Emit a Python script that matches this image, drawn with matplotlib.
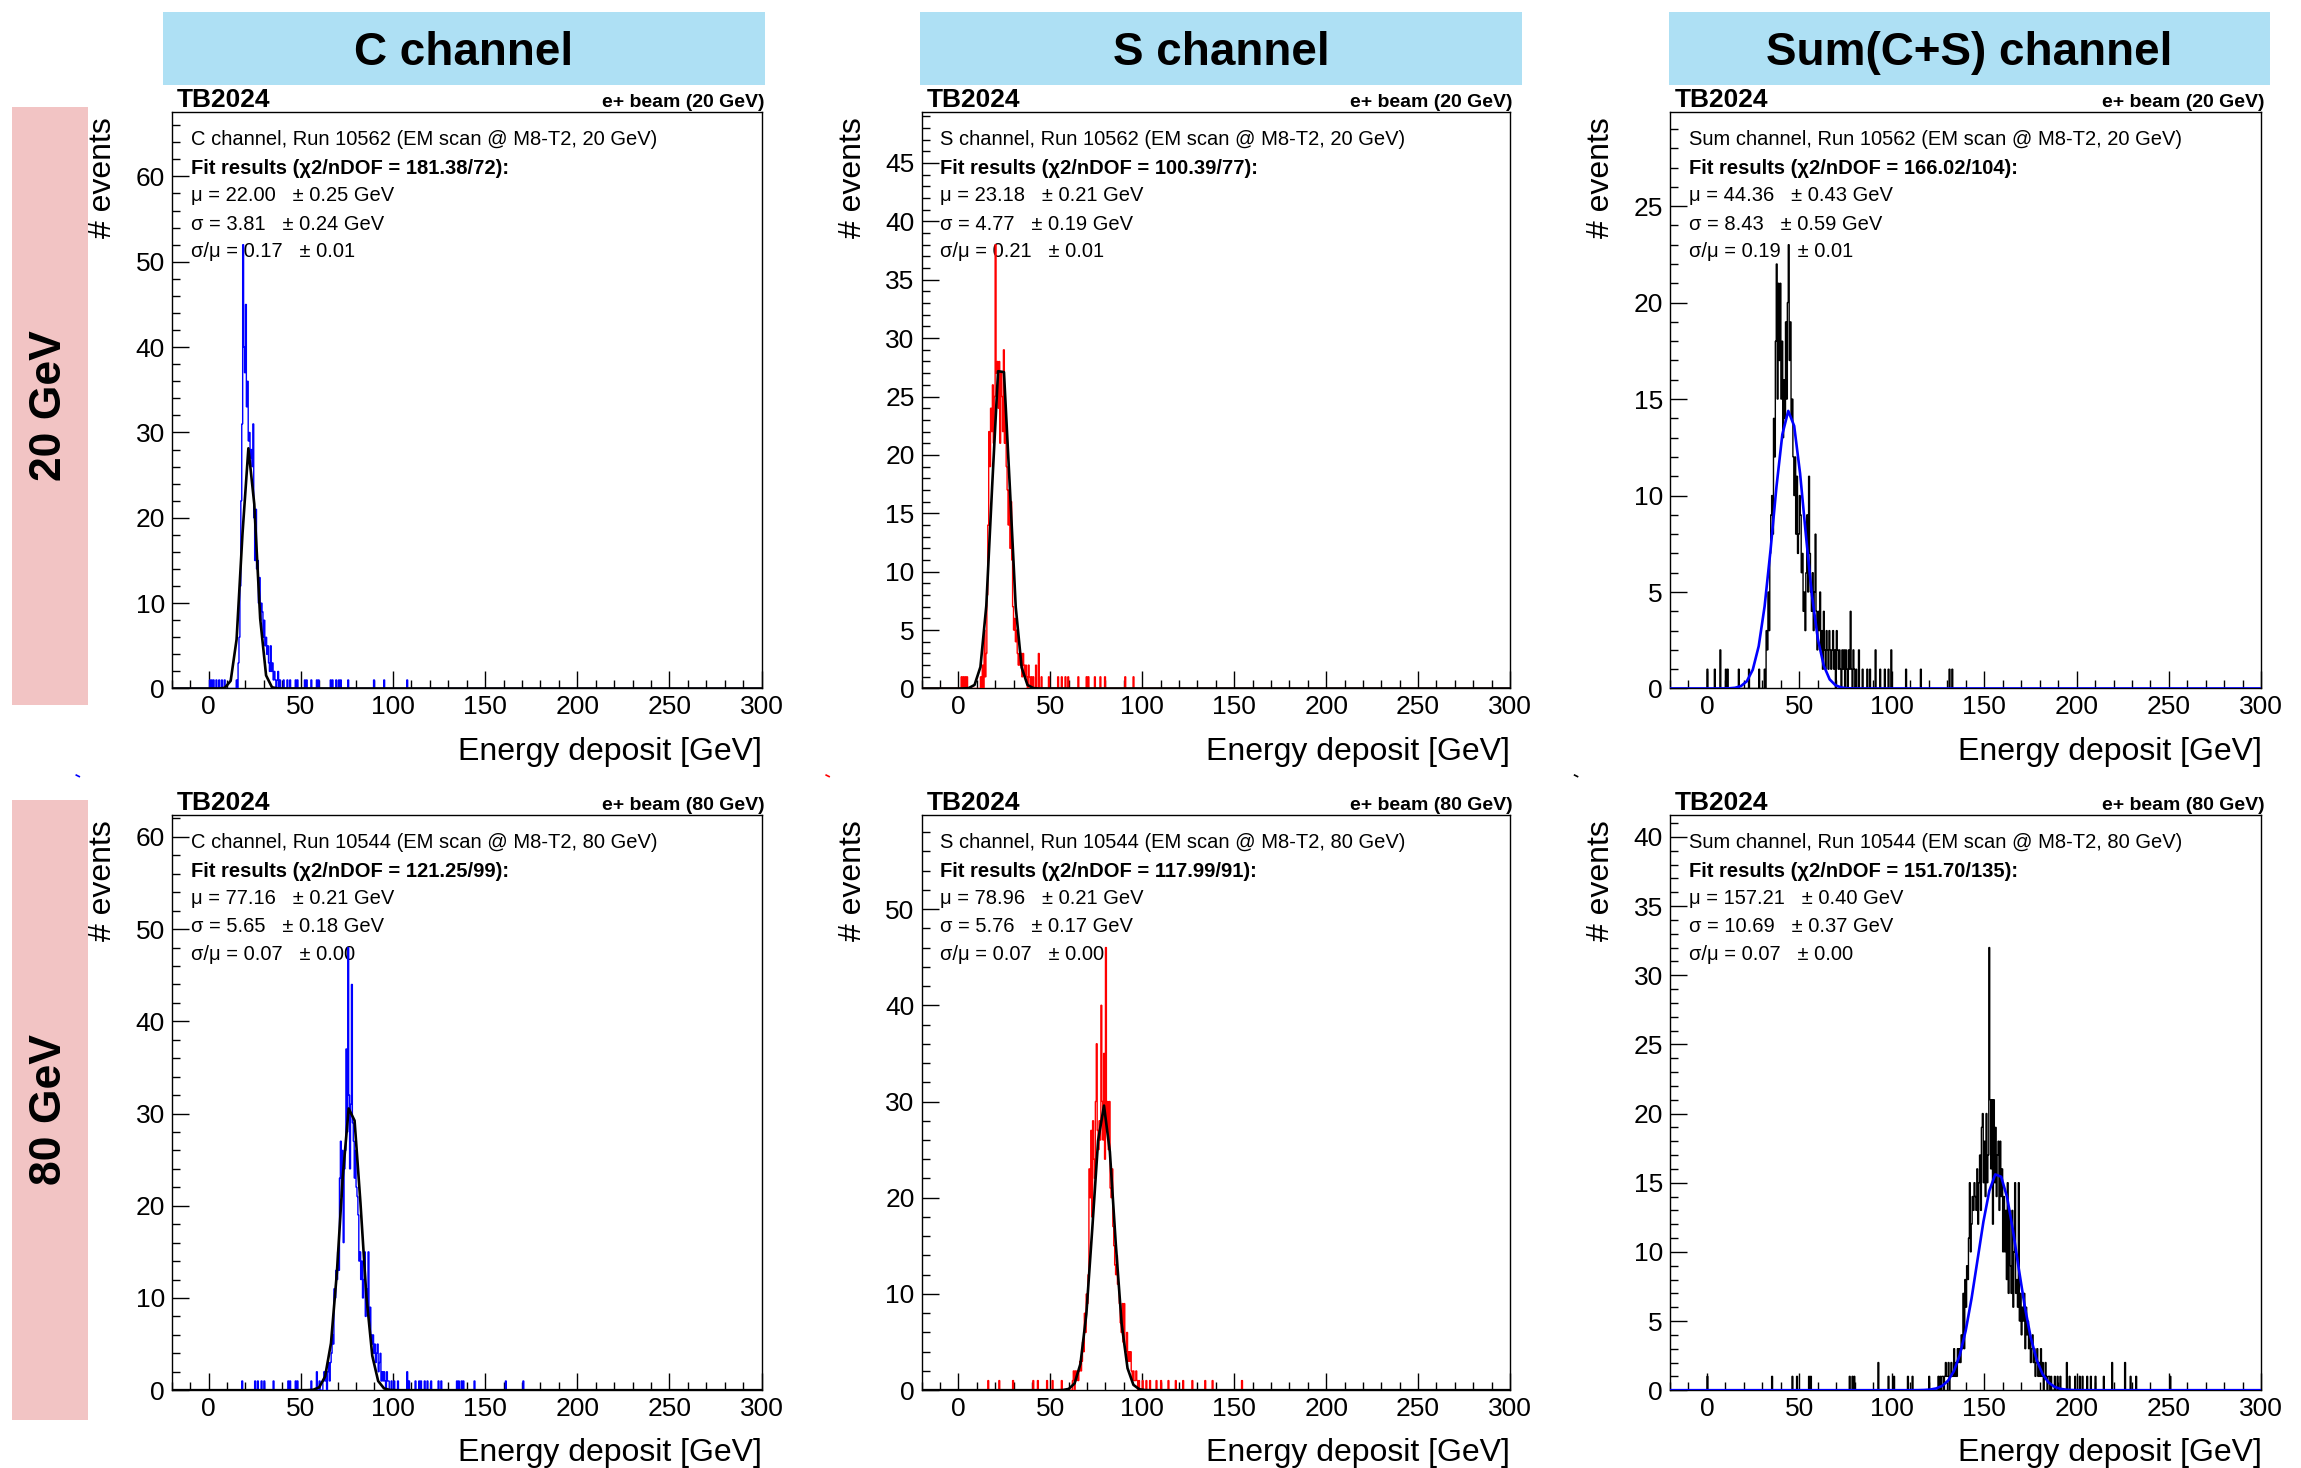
import numpy as np
import matplotlib
matplotlib.use('Agg')
import matplotlib.pyplot as plt
from matplotlib.patches import Rectangle
from matplotlib.lines import Line2D
from matplotlib.ticker import MultipleLocator

plt.rcParams['font.family'] = ['Liberation Sans', 'DejaVu Sans']

# histogram binning: 640 bins of 0.5 GeV from -20 to 300
xmin, xmax, bw = -20.0, 300.0, 0.5
edges = np.arange(xmin, xmax + bw / 2, bw)

# ---- C channel, 20 GeV (run 10562) ----
c20_start = 15.0
c20_counts = [1, 0, 3, 6, 12, 22, 31, 52, 40, 37, 45, 33, 36, 29, 30, 27, 28, 26, 31, 20,
              15, 21, 14, 15, 10, 13, 8, 10, 9, 6, 8, 5, 6, 4, 5, 3, 2, 5, 2, 3,
              1, 2, 1, 0, 1, 2, 0, 1]
c20_tail_x = [0.75, 1.75, 2.75, 4.25, 5.75, 7.25, 8.75, 40.75, 42.75, 44.25, 47.25, 48.25,
              52.25, 53.25, 55.75, 58.75, 59.75, 66.25, 67.25, 69.25, 70.75, 71.75, 75.75,
              89.75, 95.25, 107.75]
c20_tail_n = [1] * len(c20_tail_x)

# ---- S channel, 20 GeV ----
s20_start = 12.0
s20_counts = [1, 0, 2, 0, 5, 1, 3, 8, 14, 22, 19, 24, 22, 26, 21, 25, 38, 27, 28, 24,
              28, 21, 27, 25, 22, 29, 21, 23, 19, 17, 14, 17, 12, 16, 11, 7, 5, 6, 4, 5,
              3, 2, 3, 2, 3, 1, 3, 2, 1, 2, 1, 0, 2, 1, 0, 1]
s20_tail_x = [1.75, 2.75, 3.75, 4.75, 40.75, 42.25, 43.75, 45.25, 49.25, 54.25, 56.25,
              58.25, 59.75, 65.25, 69.75, 70.75, 74.25, 77.25, 79.75, 90.75, 95.25]
s20_tail_n = [1, 1, 1, 1, 1, 2, 3, 1, 1, 1, 1, 1, 1, 1, 1, 1, 1, 1, 1, 1, 1]

# ---- Sum channel, 20 GeV ----
sum20_start = 31.0
sum20_counts = [1, 0, 3, 2, 5, 3, 7, 9, 10, 8, 14, 12, 18, 22, 15, 21, 17, 21, 15, 18,
                13, 16, 14, 19, 15, 20, 23, 17, 19, 14, 15, 12, 10, 12, 8, 11, 7, 8, 10, 9,
                6, 7, 4, 5, 3, 6, 9, 5, 11, 7, 5, 4, 6, 3, 5, 8, 4, 2, 4, 3,
                5, 2, 3, 1, 4, 2, 1, 3, 2, 1, 3, 2, 1, 2, 3, 1, 2, 0, 3, 2,
                1, 2, 1, 0, 2, 1, 2, 0, 2, 1, 0, 2, 1, 4, 1, 0, 2, 1]
sum20_tail_x = [0.25, 4.25, 7.25, 10.25, 11.25, 17.25, 22.75, 28.25, 80.75, 82.25, 84.25,
                86.75, 88.25, 91.25, 93.75, 96.25, 98.25, 99.75, 107.75, 115.75, 131.25,
                132.75]
sum20_tail_n = [1, 1, 2, 1, 1, 1, 1, 1, 1, 2, 1, 1, 1, 2, 1, 1, 1, 2, 1, 1, 1, 1]

# ---- C channel, 80 GeV (run 10544) ----
c80_start = 62.0
c80_counts = [1, 2, 1, 2, 0, 2, 3, 1, 3, 4, 6, 5, 11, 10, 13, 12, 15, 13, 23, 27,
              21, 26, 16, 24, 26, 37, 28, 48, 32, 24, 31, 44, 29, 27, 23, 26, 22, 21, 19, 14,
              15, 12, 14, 10, 12, 15, 8, 11, 9, 15, 7, 9, 6, 5, 6, 4, 5, 3, 4, 5,
              2, 3, 4, 1, 2, 1, 2, 1, 0, 2, 1, 1]
c80_tail_x = [18.25, 25.25, 26.75, 28.75, 30.25, 35.25, 43.25, 44.25, 47.25, 48.25, 55.75,
              58.75, 60.25, 99.25, 100.75, 102.75, 107.75, 108.75, 112.25, 114.25, 115.25,
              117.25, 118.75, 120.75, 124.75, 126.25, 134.75, 135.75, 137.25, 138.25,
              144.25, 161.25, 170.75]
c80_tail_n = [1, 1, 1, 1, 1, 1, 1, 1, 1, 1, 1, 2, 1, 1, 1, 1, 2, 1, 1, 1, 1, 1, 1, 1, 1,
              1, 1, 1, 1, 1, 1, 1, 1]

# ---- S channel, 80 GeV ----
s80_start = 62.0
s80_counts = [1, 2, 0, 2, 1, 2, 1, 2, 3, 2, 3, 5, 4, 8, 6, 10, 9, 12, 23, 20,
              27, 18, 28, 24, 22, 30, 36, 27, 25, 28, 26, 40, 30, 26, 35, 24, 46, 27, 30, 25,
              30, 21, 20, 23, 17, 15, 13, 12, 14, 11, 11, 9, 7, 6, 9, 5, 9, 4, 4, 6,
              3, 4, 3, 4, 2, 1, 2, 1, 1, 2, 1, 0, 1]
s80_tail_x = [16.25, 22.25, 29.75, 40.75, 43.25, 48.25, 51.25, 56.25, 100.25, 102.25,
              104.25, 107.75, 110.25, 114.25, 118.25, 122.25, 127.25, 134.25, 138.25, 154.25]
s80_tail_n = [1] * len(s80_tail_x)

# ---- Sum channel, 80 GeV ----
sum80_start = 125.0
sum80_counts = [1, 0, 1, 0, 1, 1, 0, 1, 2, 1, 1, 2, 0, 1, 2, 1, 1, 3, 1, 2,
                1, 3, 2, 3, 2, 4, 3, 7, 3, 8, 6, 9, 8, 11, 15, 10, 12, 14, 13, 15,
                14, 13, 16, 12, 15, 17, 13, 19, 20, 15, 18, 14, 20, 15, 17, 32, 21, 16, 21, 12,
                21, 15, 19, 14, 17, 18, 13, 18, 14, 16, 10, 14, 10, 13, 8, 15, 7, 13, 9, 7,
                13, 6, 10, 15, 7, 8, 6, 15, 5, 7, 4, 6, 5, 7, 3, 6, 4, 5, 3, 4,
                2, 3, 4, 2, 3, 1, 2, 3, 1, 2, 1, 3, 1, 2, 0, 1, 2, 1, 0, 1,
                1, 0, 1]
sum80_tail_x = [0.25, 35.25, 46.25, 48.75, 55.25, 56.25, 77.25, 78.75, 79.75, 92.75, 98.25,
                101.25, 108.75, 111.25, 120.25, 188.25, 189.75, 191.25, 194.75, 196.25,
                199.25, 201.75, 203.25, 205.75, 207.75, 210.25, 214.75, 219.25, 226.25,
                229.25, 232.25, 250.75]
sum80_tail_n = [1, 1, 1, 1, 1, 1, 1, 1, 1, 2, 1, 1, 1, 1, 1, 1, 1, 1, 2, 1, 1, 1, 1, 1, 1,
                1, 1, 2, 2, 1, 1, 1]

# Gaussian fit results: (constant, mu, mu err, sigma, sigma err, res, res err, chi2, ndof)
fit_c20 = (28.3, 22.00, 0.25, 3.81, 0.24, 0.17, 0.01, 181.38, 72)
fit_s20 = (28.7, 23.18, 0.21, 4.77, 0.19, 0.21, 0.01, 100.39, 77)
fit_sum20 = (14.4, 44.36, 0.43, 8.43, 0.59, 0.19, 0.01, 166.02, 104)
fit_c80 = (31.2, 77.16, 0.21, 5.65, 0.18, 0.07, 0.00, 121.25, 99)
fit_s80 = (29.6, 78.96, 0.21, 5.76, 0.17, 0.07, 0.00, 117.99, 91)
fit_sum80 = (15.7, 157.21, 0.40, 10.69, 0.37, 0.07, 0.00, 151.70, 135)

columns = ['C channel', 'S channel', 'Sum(C+S) channel']
rows = ['20 GeV', '80 GeV']
runs = {'20 GeV': 10562, '80 GeV': 10544}


def build_counts(start, block, tail_x, tail_n):
    counts = np.zeros(len(edges) - 1)
    i0 = int(round((start - xmin) / bw))
    counts[i0:i0 + len(block)] = block
    for x, n in zip(tail_x, tail_n):
        counts[int((x - xmin) // bw)] += n
    return counts


panels = [
    # row, col, name, counts, fit, hist colour, fit colour, y major, y minor
    (0, 0, 'C', build_counts(c20_start, c20_counts, c20_tail_x, c20_tail_n), fit_c20, 'blue', 'black', 10, 2),
    (0, 1, 'S', build_counts(s20_start, s20_counts, s20_tail_x, s20_tail_n), fit_s20, 'red', 'black', 5, 1),
    (0, 2, 'Sum', build_counts(sum20_start, sum20_counts, sum20_tail_x, sum20_tail_n), fit_sum20, 'black', 'blue', 5, 1),
    (1, 0, 'C', build_counts(c80_start, c80_counts, c80_tail_x, c80_tail_n), fit_c80, 'blue', 'black', 10, 2),
    (1, 1, 'S', build_counts(s80_start, s80_counts, s80_tail_x, s80_tail_n), fit_s80, 'red', 'black', 10, 2),
    (1, 2, 'Sum', build_counts(sum80_start, sum80_counts, sum80_tail_x, sum80_tail_n), fit_sum80, 'black', 'blue', 5, 1),
]

W, H = 1568.0, 1000.0
fig = plt.figure(figsize=(23.01, 14.68), dpi=100)

ax_left = [117, 628, 1138]
ax_width = [402, 401, 403]
ax_top = [76, 555]
ax_height = [393, 392]

# column headers
hdr_left = [111, 627, 1137]
for x0, txt in zip(hdr_left, columns):
    fig.add_artist(Rectangle((x0 / W, 1 - 58 / H), 410 / W, 50 / H, transform=fig.transFigure,
                             facecolor='#aee0f4', edgecolor='none'))
    fig.text((x0 + 205) / W, 1 - 36 / H, txt, ha='center', va='center',
             fontsize=33, fontweight='bold')

# row labels
row_box = [(73, 480), (545, 967)]
for (t, b), txt in zip(row_box, rows):
    fig.add_artist(Rectangle((8 / W, 1 - b / H), 52 / W, (b - t) / H, transform=fig.transFigure,
                             facecolor='#f2c4c4', edgecolor='none'))
    fig.text(34 / W, 1 - (t + b) / 2 / H, txt, ha='center', va='center', rotation=90,
             fontsize=32, fontweight='bold')

# small stray markers between the rows
for mx, mc in [(52, 'blue'), (563, 'red'), (1073, 'black')]:
    fig.add_artist(Line2D([mx / W, (mx + 2) / W], [1 - 528 / H, 1 - 529 / H],
                          transform=fig.transFigure, color=mc, lw=1.2))

xf = np.linspace(xmin, xmax, 101)

for r, c, name, counts, fit, hcol, fcol, ymaj, ymin_ in panels:
    ax = fig.add_axes([ax_left[c] / W, 1 - (ax_top[r] + ax_height[r]) / H,
                       ax_width[c] / W, ax_height[r] / H])
    amp, mu, dmu, sig, dsig, res, dres, chi2, ndof = fit
    energy = rows[r]

    ax.stairs(counts, edges, color=hcol, lw=1.0, zorder=3)
    ax.plot(xf, amp * np.exp(-0.5 * ((xf - mu) / sig) ** 2), color=fcol, lw=1.9, zorder=4)

    ax.set_xlim(xmin, xmax)
    ax.set_ylim(0, 1.3 * counts.max())
    ax.xaxis.set_major_locator(MultipleLocator(50))
    ax.xaxis.set_minor_locator(MultipleLocator(10))
    ax.yaxis.set_major_locator(MultipleLocator(ymaj))
    ax.yaxis.set_minor_locator(MultipleLocator(ymin_))
    ax.tick_params(which='both', direction='in', top=False, right=False, labelsize=19, pad=5)
    ax.tick_params(which='major', length=12, width=1.0)
    ax.tick_params(which='minor', length=6, width=1.0)
    for sp in ax.spines.values():
        sp.set_linewidth(1.0)

    ax.text(1.0, -0.11, 'Energy deposit [GeV]', transform=ax.transAxes,
            ha='right', va='center', fontsize=23)
    ax.text(-0.117, 0.99, '# events', transform=ax.transAxes, rotation=90,
            ha='center', va='top', fontsize=23)
    ax.text(0.008, 1.008, 'TB2024', transform=ax.transAxes, ha='left', va='baseline',
            fontsize=19, fontweight='bold')
    ax.text(1.005, 1.008, 'e+ beam (%s)' % energy, transform=ax.transAxes, ha='right',
            va='baseline', fontsize=14, fontweight='bold')

    tx = 0.032
    lines_y = [0.952, 0.902, 0.854, 0.805, 0.757]
    fs = 14.5
    ax.text(tx, lines_y[0], '%s channel, Run %d (EM scan @ M8-T2, %s)' % (name, runs[energy], energy),
            transform=ax.transAxes, ha='left', va='center', fontsize=fs, zorder=2)
    ax.text(tx, lines_y[1], 'Fit results (\u03c72/nDOF = %.2f/%d):' % (chi2, ndof),
            transform=ax.transAxes, ha='left', va='center', fontsize=fs, fontweight='bold', zorder=2)
    ax.text(tx, lines_y[2], '\u03bc = %.2f   \u00b1 %.2f GeV' % (mu, dmu),
            transform=ax.transAxes, ha='left', va='center', fontsize=fs, zorder=2)
    ax.text(tx, lines_y[3], '\u03c3 = %.2f   \u00b1 %.2f GeV' % (sig, dsig),
            transform=ax.transAxes, ha='left', va='center', fontsize=fs, zorder=2)
    ax.text(tx, lines_y[4], '\u03c3/\u03bc = %.2f   \u00b1 %.2f' % (res, dres),
            transform=ax.transAxes, ha='left', va='center', fontsize=fs, zorder=2)

fig.savefig('out.png', dpi=100)
